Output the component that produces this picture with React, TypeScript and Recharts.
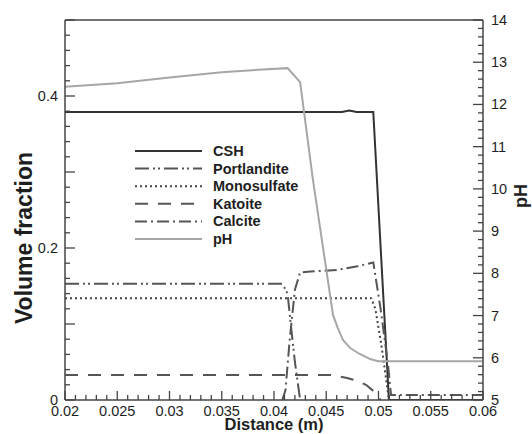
import React from "react"
import { LineChart, Line, XAxis, YAxis, ReferenceLine } from "recharts"

// phase profiles: distance (m) vs volume fraction
const cshDist = [0.02, 0.0465, 0.0472, 0.0479, 0.0495, 0.051, 0.06]
const cshFrac = [0.379, 0.379, 0.381, 0.379, 0.379, 0, 0]

const portlanditeDist = [0.02, 0.0408, 0.0413, 0.0416, 0.042, 0.0425]
const portlanditeFrac = [0.153, 0.153, 0.14, 0.1, 0.05, 0]

const monosulfateDist = [0.02, 0.0493, 0.0497, 0.0503, 0.051]
const monosulfateFrac = [0.134, 0.134, 0.12, 0.07, 0]

const katoiteDist = [0.02, 0.0455, 0.047, 0.048, 0.0488, 0.0495, 0.05, 0.0502]
const katoiteFrac = [0.033, 0.033, 0.029, 0.025, 0.02, 0.012, 0.003, 0]

const calciteDist = [0.0408, 0.0411, 0.0415, 0.042, 0.0425, 0.0435, 0.046, 0.048, 0.0495, 0.0502, 0.0509, 0.0512, 0.06]
const calciteFrac = [0, 0.013, 0.079, 0.145, 0.168, 0.169, 0.171, 0.176, 0.181, 0.12, 0.048, 0.0065, 0.0065]

// pore solution pH
const phDist = [0.02, 0.025, 0.03, 0.035, 0.0385, 0.0413, 0.0425, 0.0437, 0.04565, 0.0461, 0.0466, 0.0473, 0.0482, 0.0492, 0.04995, 0.06]
const phValue = [12.42, 12.5, 12.64, 12.76, 12.82, 12.86, 12.53, 10.26, 7.01, 6.71, 6.42, 6.23, 6.09, 5.97, 5.92, 5.92]

// axis ticks
const xMajor = [0.02, 0.025, 0.03, 0.035, 0.04, 0.045, 0.05, 0.055, 0.06]
const xLabels = ["0.02", "0.025", "0.03", "0.035", "0.04", "0.045", "0.05", "0.055", "0.06"]
const leftMajor = [0, 0.1, 0.2, 0.3, 0.4, 0.5]
const leftLabels = ["0", "", "0.2", "", "0.4", ""]
const rightMajor = [5, 6, 7, 8, 9, 10, 11, 12, 13, 14]
const rightLabels = ["5", "6", "7", "8", "9", "10", "11", "12", "13", "14"]

const xTicks = Array.from({ length: 41 }, (_, i) => +(0.02 + i * 0.001).toFixed(3))
const leftTicks = Array.from({ length: 26 }, (_, i) => +(i * 0.02).toFixed(2))
const rightTicks = Array.from({ length: 46 }, (_, i) => +(5 + i * 0.2).toFixed(1))

const zip = (xs: number[], ys: number[]) => xs.map((d, i) => ({ d, v: ys[i] }))

const FONT = "'Liberation Sans', Arial, Helvetica, sans-serif"
const AXIS = "#444"
const TEXT = "#1e1e1e"

const series = [
  { name: "CSH", data: zip(cshDist, cshFrac), axis: "left", color: "#333", dash: undefined, width: 2 },
  { name: "Portlandite", data: zip(portlanditeDist, portlanditeFrac), axis: "left", color: "#555", dash: "14 4 2 3 2 4", width: 2 },
  { name: "Monosulfate", data: zip(monosulfateDist, monosulfateFrac), axis: "left", color: "#444", dash: "2 3", width: 2 },
  { name: "Katoite", data: zip(katoiteDist, katoiteFrac), axis: "left", color: "#555", dash: "13 10", width: 2 },
  { name: "Calcite", data: zip(calciteDist, calciteFrac), axis: "left", color: "#555", dash: "12 4 2 4", width: 2 },
  { name: "pH", data: zip(phDist, phValue), axis: "right", color: "#a6a6a6", dash: undefined, width: 2 },
]

const near = (a: number, b: number) => Math.abs(a - b) < 1e-6

const XTick = ({ x, y, payload }: any) => {
  const i = xMajor.findIndex((m) => near(m, payload.value))
  const len = i >= 0 ? 9 : 5
  return (
    <g>
      <line x1={x} x2={x} y1={y} y2={y - len} stroke={AXIS} strokeWidth={1.3} />
      {i >= 0 && (
        <text x={x} y={y + 16} textAnchor="middle" fontSize={14.5} fontFamily={FONT} fill={TEXT}>
          {xLabels[i]}
        </text>
      )}
    </g>
  )
}

const LeftTick = ({ x, y, payload }: any) => {
  const i = leftMajor.findIndex((m) => near(m, payload.value))
  const len = i >= 0 ? 10 : 5
  return (
    <g>
      <line x1={x} x2={x + len} y1={y} y2={y} stroke={AXIS} strokeWidth={1.3} />
      {i >= 0 && leftLabels[i] && (
        <text x={x - 7} y={y + 5} textAnchor="end" fontSize={14.5} fontFamily={FONT} fill={TEXT}>
          {leftLabels[i]}
        </text>
      )}
    </g>
  )
}

const RightTick = ({ x, y, payload }: any) => {
  const i = rightMajor.findIndex((m) => near(m, payload.value))
  const len = i >= 0 ? 10 : 5
  return (
    <g>
      <line x1={x} x2={x - len} y1={y} y2={y} stroke={AXIS} strokeWidth={1.3} />
      {i >= 0 && (
        <text x={x + 8} y={y + 5} textAnchor="start" fontSize={14.5} fontFamily={FONT} fill={TEXT}>
          {rightLabels[i]}
        </text>
      )}
    </g>
  )
}

export default function App() {
  return (
    <div style={{ position: "absolute", left: 0, top: 0, width: 532, height: 434, background: "#fff" }}>
      <LineChart width={532} height={434} margin={{ top: 20, right: 0, bottom: 0, left: 0 }}>
        <XAxis
          dataKey="d"
          type="number"
          domain={[0.02, 0.06]}
          ticks={xTicks}
          interval={0}
          height={34}
          tickSize={0}
          tickMargin={0}
          tickLine={false}
          tick={<XTick />}
          stroke={AXIS}
          strokeWidth={1.5}
          allowDataOverflow
        />
        <YAxis
          yAxisId="left"
          domain={[0, 0.5]}
          ticks={leftTicks}
          interval={0}
          width={65}
          tickSize={0}
          tickMargin={0}
          tickLine={false}
          tick={<LeftTick />}
          stroke={AXIS}
          strokeWidth={1.5}
          allowDataOverflow
        />
        <YAxis
          yAxisId="right"
          orientation="right"
          domain={[5, 14]}
          ticks={rightTicks}
          interval={0}
          width={49}
          tickSize={0}
          tickMargin={0}
          tickLine={false}
          tick={<RightTick />}
          stroke={AXIS}
          strokeWidth={1.5}
          allowDataOverflow
        />
        <ReferenceLine yAxisId="left" y={0.5} stroke={AXIS} strokeWidth={1.5} />
        {series.map((s) => (
          <Line
            key={s.name}
            data={s.data}
            dataKey="v"
            yAxisId={s.axis}
            type="linear"
            stroke={s.color}
            strokeWidth={s.width}
            strokeDasharray={s.dash}
            dot={false}
            activeDot={false}
            isAnimationActive={false}
          />
        ))}
      </LineChart>
      <svg
        width={532}
        height={434}
        style={{ position: "absolute", left: 0, top: 0, pointerEvents: "none" }}
        fontFamily={FONT}
      >
        {series.map((s, i) => (
          <g key={s.name}>
            <line
              x1={135}
              x2={202}
              y1={151 + i * 17.6}
              y2={151 + i * 17.6}
              stroke={s.color}
              strokeWidth={s.width}
              strokeDasharray={s.dash}
            />
            <text x={213} y={151 + i * 17.6 + 5} fontSize={14.5} fontWeight="bold" fill={TEXT}>
              {s.name}
            </text>
          </g>
        ))}
        <text x={274} y={430} textAnchor="middle" fontSize={16.5} fontWeight="bold" fill={TEXT}>
          Distance (m)
        </text>
        <text
          transform="translate(32 238) rotate(-90)"
          textAnchor="middle"
          fontSize={23}
          fontWeight="bold"
          fill={TEXT}
        >
          Volume fraction
        </text>
        <text
          transform="translate(527 196) rotate(-90)"
          textAnchor="middle"
          fontSize={18}
          fontWeight="bold"
          fill={TEXT}
        >
          pH
        </text>
      </svg>
    </div>
  )
}
